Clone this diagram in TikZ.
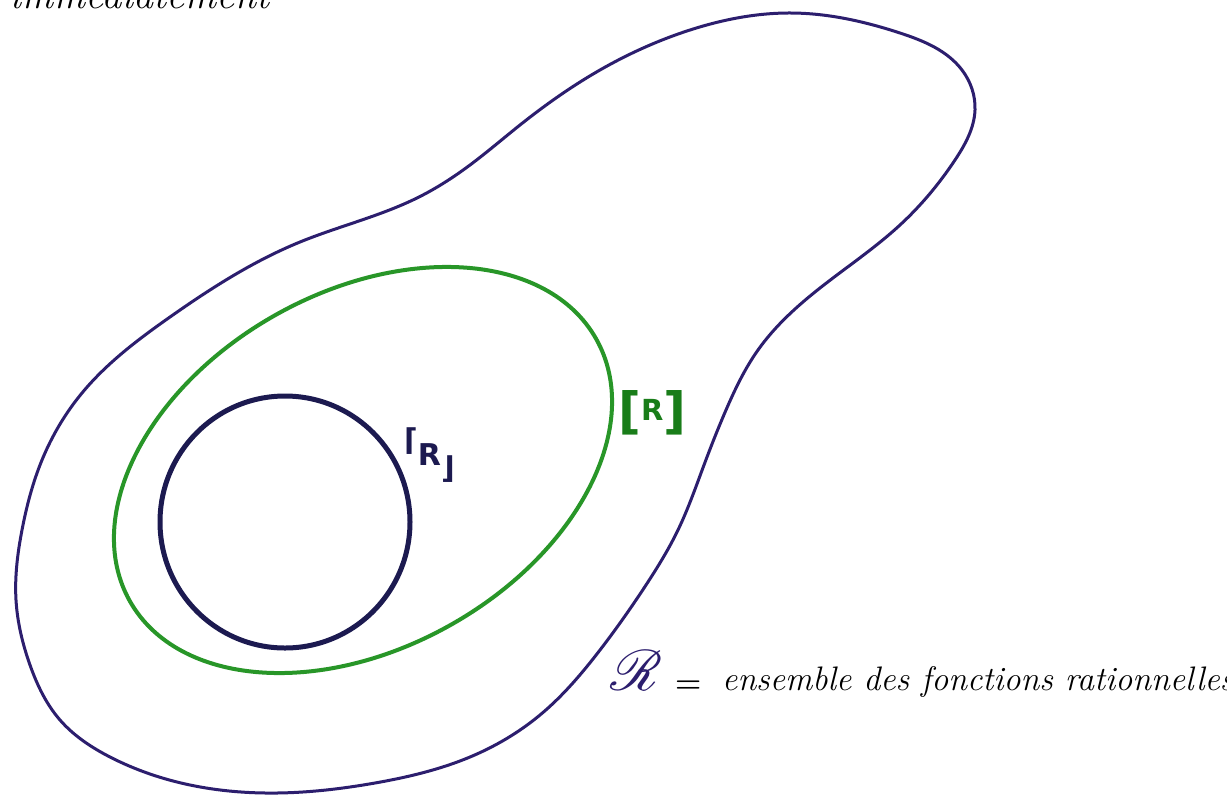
\documentclass[tikz,border=0pt]{standalone}
\usepackage{fontspec}
\usepackage{mathrsfs}
\usetikzlibrary{hobby}
\newfontfamily\labfont{DejaVu Sans}
\newfontfamily\labfontb{DejaVu Sans Bold}
\definecolor{outerc}{RGB}{44,30,110}
\definecolor{innerc}{RGB}{28,26,80}
\definecolor{greenc}{RGB}{40,150,40}
\definecolor{greent}{RGB}{25,125,25}
\begin{document}
\begin{tikzpicture}[x=1pt,y=-1pt,
  outerline/.style={draw=outerc,line width=3pt,line join=round},
  greenline/.style={draw=greenc,line width=4pt},
  innerline/.style={draw=innerc,line width=5pt},
  hand/.style={font=\fontsize{34}{38}\selectfont\itshape, inner sep=0pt}]
\useasboundingbox (0,0) rectangle (1227,796);
\fill[white] (0,0) rectangle (1227,796);
% outer set
\draw[outerline, use Hobby shortcut, closed=true]
 (792,13) .. (900,33) .. (962,70) .. (975,110) .. (955,160) .. (900,225) ..
 (820,288) .. (758,350) .. (726,410) .. (704,465) .. (678,530) .. (646,585) ..
 (600,650) .. (540,715) .. (470,757) .. (375,783) .. (277,793) .. (190,785) ..
 (110,757) .. (60,720) .. (30,665) .. (16,600) .. (22,530) .. (42,460) ..
 (82,393) .. (170,317) .. (300,242) .. (419,197) .. (470,165) .. (520,125) ..
 (600,70) .. (690,30);
% green set
\draw[greenline] (363,470) ellipse [x radius=267.5, y radius=178, rotate=29.3];
% inner set
\draw[innerline] (285,522) ellipse [x radius=125, y radius=126];
% labels
\node[anchor=base west, inner sep=0pt, text=innerc, font=\labfontb\fontsize{30}{30}\selectfont] (lblin) at (404,465)
  {\raisebox{15pt}{⌈}R\raisebox{-13pt}{⌋}};
\node[anchor=base west, inner sep=0pt, text=greent, font=\labfontb\fontsize{50}{50}\selectfont] (lblgr) at (618,428)
  {[\raisebox{8pt}{\fontsize{29}{29}\selectfont R}]};
\node[anchor=base west, inner sep=0pt, text=outerc] (rsym) at (610,690) {\resizebox{52pt}{!}{$\mathscr{R}$}};
\node[anchor=base west, inner sep=0pt, font=\fontsize{30}{30}\selectfont\bfseries] (eq) at (675,692) {=};
\node[hand, anchor=base west] (def) at (722,690) {ensemble des fonctions rationnelles};
\node[anchor=base east, inner sep=0pt, font=\fontsize{40}{40}\selectfont\itshape] (top) at (270,8) {immédiatement};
\end{tikzpicture}
\end{document}
